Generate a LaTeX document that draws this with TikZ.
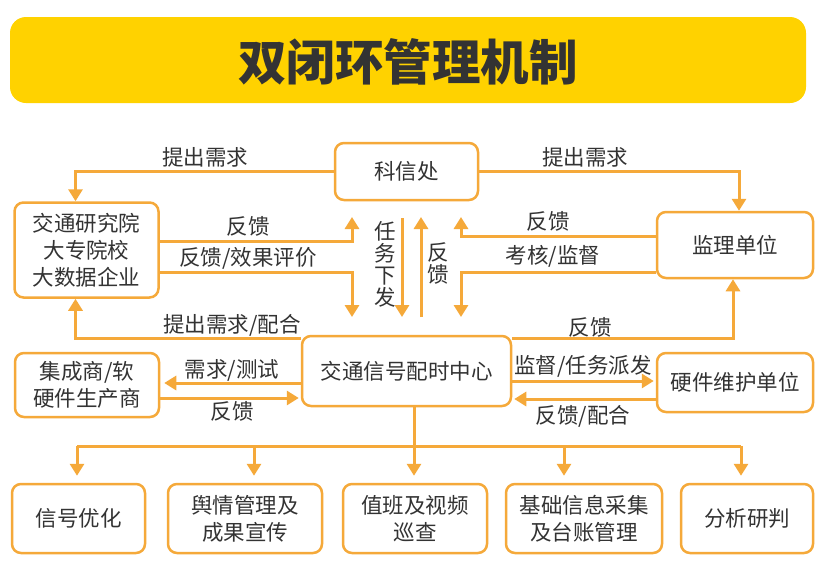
\documentclass[tikz,border=0pt]{standalone}
\usepackage{fontspec}
\setmainfont{Noto Sans CJK SC}
\usetikzlibrary{arrows.meta}
\definecolor{lineorange}{HTML}{F5A93A}
\definecolor{titleyellow}{HTML}{FFD200}
\definecolor{txt}{HTML}{333333}
\begin{document}
\begin{tikzpicture}[x=1pt,y=-1pt,
  box/.style={draw=lineorange,line width=2.5pt,rounded corners=9pt,fill=white,inner sep=0pt,text=txt,font=\fontsize{21.5}{27}\selectfont,align=center},
  arr/.style={draw=lineorange,line width=3pt,-{Triangle[width=14pt,length=12pt]}},
  conn/.style={draw=lineorange,line width=3pt},
  lbl/.style={text=txt,font=\fontsize{21.5}{24}\selectfont,inner sep=0pt,align=center}]
\useasboundingbox (0,0) rectangle (823,566);
\fill[white] (0,0) rectangle (823,566);
% title
\node[fill=titleyellow,rounded corners=16pt,minimum width=796pt,minimum height=86pt,inner sep=0pt] (title) at (408,60) {};
\node[text=txt,font=\fontsize{48.5}{52}\selectfont\bfseries,inner sep=0pt] (titletext) at (408,62) {双闭环管理机制};
% nodes
\node[box,minimum width=143pt,minimum height=57pt] (kx) at (406.5,171.5) {科信处};
\node[box,minimum width=144pt,minimum height=95pt] (yj) at (86.5,250) {交通研究院\\大专院校\\大数据企业};
\node[box,minimum width=156pt,minimum height=66pt] (jl) at (735,245) {监理单位};
\node[box,minimum width=209pt,minimum height=70pt] (zx) at (406.5,371) {交通信号配时中心};
\node[box,minimum width=144pt,minimum height=64pt] (jc) at (87,385) {集成商/软\\硬件生产商};
\node[box,minimum width=156pt,minimum height=59pt] (yw) at (735,382.5) {硬件维护单位};
\node[box,minimum width=133pt,minimum height=69pt] (b1) at (78.5,518.5) {信号优化};
\node[box,minimum width=154pt,minimum height=69pt] (b2) at (245,518.5) {舆情管理及\\成果宣传};
\node[box,minimum width=144pt,minimum height=69pt] (b3) at (415,518.5) {值班及视频\\巡查};
\node[box,minimum width=156pt,minimum height=69pt] (b4) at (584,518.5) {基础信息采集\\及台账管理};
\node[box,minimum width=132pt,minimum height=69pt] (b5) at (747,518.5) {分析研判};
% top connectors
\draw[arr] (kx.west) -| ([xshift=-11pt]yj.north);
\node[lbl] (l1) at (205,157) {提出需求};
\draw[arr] (kx.east) -| ([xshift=4pt]jl.north);
\node[lbl] (l2) at (585,157) {提出需求};
% research institutes <-> centre
\coordinate (a1) at (352,217);
\coordinate (a2) at (352,317);
\draw[arr] (yj.east |- 0,241) -| (a1);
\node[lbl] (l3) at (248,226) {反馈};
\draw[arr] (yj.east |- 0,272) -| (a2);
\node[lbl] (l4) at (248,258) {反馈/效果评价};
% vertical task / feedback
\coordinate (v1s) at (402,218);
\coordinate (v1e) at (402,317);
\coordinate (v2s) at (421,317);
\coordinate (v2e) at (421,217);
\draw[arr] (v1s) -- (v1e);
\draw[arr] (v2s) -- (v2e);
\node[lbl,font=\fontsize{21.5}{22}\selectfont] (l5) at (385,264) {任\\务\\下\\发};
\node[lbl,font=\fontsize{21.5}{22}\selectfont] (l6) at (438,263) {反\\馈};
% supervision unit
\coordinate (s1) at (461,217);
\coordinate (s2) at (461,317);
\draw[arr] (jl.west |- 0,236) -| (s1);
\node[lbl] (l7) at (548,221) {反馈};
\draw[arr] (jl.west |- 0,272) -| (s2);
\node[lbl] (l8) at (553,256) {考核/监督};
% centre -> up
\draw[arr] (zx.west |- 0,338) -| ([xshift=-11pt]yj.south);
\node[lbl] (l9) at (232,325) {提出需求/配合};
\draw[arr] (zx.east |- 0,338) -| ([xshift=-2pt]jl.south);
\node[lbl] (l10) at (590,327) {反馈};
% integrators
\draw[arr,shorten >=4pt] (zx.west |- 0,383) -- (jc.east |- 0,383);
\node[lbl] (l11) at (232,370) {需求/测试};
\draw[arr,shorten >=2pt] (jc.east |- 0,398) -- (zx.west |- 0,398);
\node[lbl] (l12) at (232,411) {反馈};
% hardware maintenance
\draw[arr,shorten >=2pt] (zx.east |- 0,381) -- (yw.west |- 0,381);
\node[lbl] (l13) at (583,366) {监督/任务派发};
\draw[arr,shorten >=2pt] (yw.west |- 0,399) -- (zx.east |- 0,399);
\node[lbl] (l14) at (583,416) {反馈/配合};
% bottom distribution
\draw[conn] (77,446) -- (741,446);
\draw[arr,shorten >=7pt] (zx.south -| 414,0) -- (b3.north -| 414,0);
\draw[arr,shorten >=7pt] (77,446) -- (b1.north -| 77,0);
\draw[arr,shorten >=7pt] (254,446) -- (b2.north -| 254,0);
\draw[arr,shorten >=7pt] (564,446) -- (b4.north -| 564,0);
\draw[arr,shorten >=7pt] (741,446) -- (b5.north -| 741,0);
\end{tikzpicture}
\end{document}
